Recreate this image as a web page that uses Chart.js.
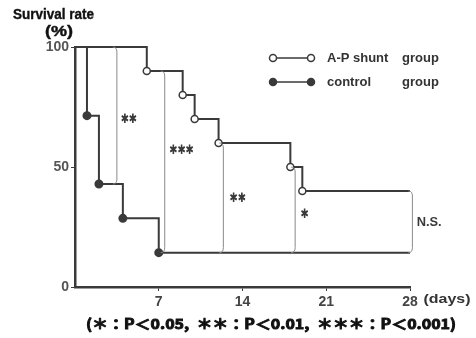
<!DOCTYPE html>
<html>
<head>
<meta charset="utf-8">
<script src="https://cdn.jsdelivr.net/npm/chart.js@4"></script>
<style>
  html, body { margin: 0; padding: 0; background: #fff; }
</style>
</head>
<body>
<canvas id="survivalChart" width="476" height="338"></canvas>
<script>
const ctx = document.getElementById("survivalChart");

// survival curves (days, %)
const shuntDays = [0, 6, 9, 10, 12, 18, 19, 28];
const shuntRate = [100, 90, 80, 70, 60, 50, 40, 40];
const controlDays = [0, 1, 2, 4, 7, 28];
const controlRate = [100, 71.4, 42.9, 28.6, 14.3, 14.3];

// significance brackets between the two curves
const bracketDays = [3.5, 7.5, 12.4, 18.4, 28.2];
const bracketTop = [100, 90, 60, 50, 40];
const bracketBottom = [42.9, 14.3, 14.3, 14.3, 14.3];
const bracketText = ["\uFF0A\uFF0A", "\uFF0A\uFF0A\uFF0A", "\uFF0A\uFF0A", "\uFF0A", "N.S."];
const bracketTextDay = [4.5, 8.9, 13.6, 19.2, 29.6];
const bracketTextRate = [70, 57, 37, 30.5, 27];

const xTicks = [7, 14, 21, 28];
const yTicks = [0, 50, 100];

const font = "'Liberation Sans', Arial, sans-serif";
const cjk = "'Noto Sans CJK JP', 'Liberation Sans', sans-serif";
const ink = "#3a3a3a";

const toPoints = (xs, ys) => xs.map((x, i) => ({ x: x, y: ys[i] }));

// draw text squeezed to a given width (the original lettering is condensed)
function fillFit(c, text, cx, cy, width, heavy) {
  const w = c.measureText(text).width;
  c.save();
  c.translate(cx, cy);
  c.scale(width / w, 1);
  c.textAlign = "center";
  c.textBaseline = "middle";
  c.fillText(text, 0, 0);
  if (heavy) {
    c.strokeStyle = c.fillStyle;
    c.lineWidth = heavy;
    c.strokeText(text, 0, 0);
  }
  c.restore();
}

const extras = {
  id: "extras",
  afterDatasetsDraw(chart) {
    const c = chart.ctx;
    const sx = chart.scales.x;
    const sy = chart.scales.y;
    c.save();

    // brackets
    c.strokeStyle = "#8a8a8a";
    c.lineWidth = 1;
    bracketDays.forEach((d, i) => {
      const x = sx.getPixelForValue(d);
      const t = sy.getPixelForValue(bracketTop[i]);
      const b = sy.getPixelForValue(bracketBottom[i]);
      c.beginPath();
      c.moveTo(x - 4, t);
      c.quadraticCurveTo(x, t, x, t + 5);
      c.lineTo(x, b - 5);
      c.quadraticCurveTo(x, b, x - 4, b);
      c.stroke();
    });

    c.fillStyle = ink;
    bracketText.forEach((s, i) => {
      const px = sx.getPixelForValue(bracketTextDay[i]);
      const py = sy.getPixelForValue(bracketTextRate[i]);
      if (s === "N.S.") {
        c.font = "bold 13px " + font;
        fillFit(c, s, px, py, 25);
      } else {
        c.font = "bold 11px " + cjk;
        fillFit(c, s, px, py, s.length * 8.2, 1.2);
      }
    });

    // axis titles
    c.fillStyle = "#111";
    c.font = "bold 15px " + font;
    fillFit(c, "Survival rate", 53.5, 15, 81, 0.4);
    c.font = "bold 14px " + font;
    fillFit(c, "(%)", 59, 32, 28, 0.4);
    c.font = "bold 13px " + font;
    c.fillStyle = "#333";
    fillFit(c, "(days)", 447, 299, 47);

    // footnote
    c.font = "bold 14px " + cjk;
    c.fillStyle = "#111";
    fillFit(c, "(\uFF0A\uFF1AP\uFF1C0.05,  \uFF0A\uFF0A\uFF1AP\uFF1C0.01,  \uFF0A\uFF0A\uFF0A\uFF1AP\uFF1C0.001)", 271, 324, 370, 0.9);

    // legend
    const rows = [
      { y: 58, fill: "#fff", name: "A-P shunt", group: "group" },
      { y: 82, fill: ink, name: "control", group: "group" }
    ];
    rows.forEach(r => {
      c.strokeStyle = ink;
      c.lineWidth = 1.5;
      c.beginPath();
      c.moveTo(273, r.y);
      c.lineTo(311, r.y);
      c.stroke();
      [273, 311].forEach(px => {
        c.beginPath();
        c.arc(px, r.y, 3.5, 0, Math.PI * 2);
        c.fillStyle = r.fill;
        c.fill();
        c.stroke();
      });
      c.fillStyle = "#333";
      c.font = "bold 13px " + font;
      c.textAlign = "left";
      c.textBaseline = "middle";
      c.fillText(r.name, 327, r.y);
      c.fillText(r.group, 402, r.y);
    });

    c.restore();
  }
};

// eslint-disable-next-line no-unused-vars
const myChart = new Chart(ctx, {
  type: "line",
  data: {
    datasets: [
      {
        label: "A-P shunt group",
        data: toPoints(shuntDays, shuntRate),
        stepped: true,
        borderColor: ink,
        borderWidth: 2,
        pointRadius: shuntDays.map((d, i) => (i === 0 || i === shuntDays.length - 1 ? 0 : 3.5)),
        pointBackgroundColor: "#fff",
        pointBorderColor: ink,
        pointBorderWidth: 1.5,
        clip: false
      },
      {
        label: "control group",
        data: toPoints(controlDays, controlRate),
        stepped: true,
        borderColor: ink,
        borderWidth: 2,
        pointRadius: controlDays.map((d, i) => (i === 0 || i === controlDays.length - 1 ? 0 : 3.5)),
        pointBackgroundColor: ink,
        pointBorderColor: ink,
        clip: false
      }
    ]
  },
  options: {
    responsive: false,
    animation: false,
    devicePixelRatio: 1,
    layout: { padding: { left: 0, top: 47, right: 66, bottom: 0 } },
    plugins: { legend: { display: false }, tooltip: { enabled: false } },
    scales: {
      x: {
        type: "linear",
        min: 0,
        max: 28,
        afterFit: s => { s.height = 51; },
        afterBuildTicks: s => { s.ticks = xTicks.map(v => ({ value: v })); },
        grid: { drawOnChartArea: false, tickLength: 4, color: ink },
        border: { color: ink, width: 2.5 },
        ticks: { color: "#444", padding: 3, font: { family: font, size: 14, weight: "bold" } }
      },
      y: {
        min: 0,
        max: 100,
        afterFit: s => { s.width = 75; },
        afterBuildTicks: s => { s.ticks = yTicks.map(v => ({ value: v })); },
        grid: { drawOnChartArea: false, tickLength: 4, color: ink },
        border: { color: ink, width: 2.5 },
        ticks: { color: "#555", padding: 2, font: { family: font, size: 14, weight: "bold" } }
      }
    }
  },
  plugins: [extras]
});
</script>
</body>
</html>
